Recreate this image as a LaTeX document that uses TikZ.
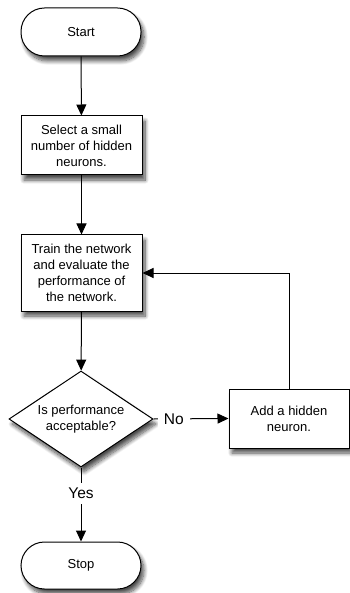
\documentclass[tikz,border=0pt]{standalone}
\usepackage{fontspec}
\setmainfont{Liberation Sans}
\usetikzlibrary{arrows.meta,shapes.geometric,shadows.blur}
\begin{document}
\begin{tikzpicture}[x=1pt,y=1pt,
  font=\fontsize{13}{16}\selectfont,
  shade/.style={blur shadow={shadow xshift=3pt,shadow yshift=-5pt,shadow blur radius=4pt,shadow blur steps=10,shadow opacity=70}},
  terminal/.style={draw,line width=1pt,fill=white,rounded corners=23.5pt,
    minimum width=120pt,inner sep=0pt,align=center,shade},
  process/.style={draw,line width=1pt,fill=white,minimum width=121pt,
    inner sep=0pt,align=center,shade},
  decision/.style={draw,line width=1pt,fill=white,diamond,shape aspect=1.5,
    minimum width=144pt,minimum height=96pt,inner sep=0pt,align=center,shade},
  arr/.style={line width=1pt,-{Triangle[length=11pt,width=10pt]}},
  lbl/.style={fill=white,inner xsep=6pt,inner ysep=5pt,font=\fontsize{15.5}{18}\selectfont}]
\useasboundingbox (0,0) rectangle (349,-593);
\node[terminal,minimum height=48pt] (start) at (81,-32) {Start};
\node[process,minimum height=59pt] (sel) at (81.5,-145.5) {Select a small\\number of hidden\\neurons.};
\node[process,minimum height=76pt] (train) at (81.5,-273) {Train the network\\and evaluate the\\performance of\\the network.};
\node[decision] (dec) at (81,-419) {Is performance\\acceptable?};
\node[process,minimum width=120pt,minimum height=59pt] (add) at (289,-418.5) {Add a hidden\\neuron.};
\node[terminal,minimum height=47pt] (stop) at (81,-565.5) {Stop};
\draw[arr] (start) -- (sel);
\draw[arr] (sel) -- (train);
\draw[arr] (train) -- (dec);
\draw[arr] (dec.east) -- node[lbl,pos=0.27] {No} (add.west);
\draw[arr] (dec.south) -- node[lbl,pos=0.35] {Yes} (stop.north);
\draw[arr] (add.north) |- (train.east);
\end{tikzpicture}
\end{document}
